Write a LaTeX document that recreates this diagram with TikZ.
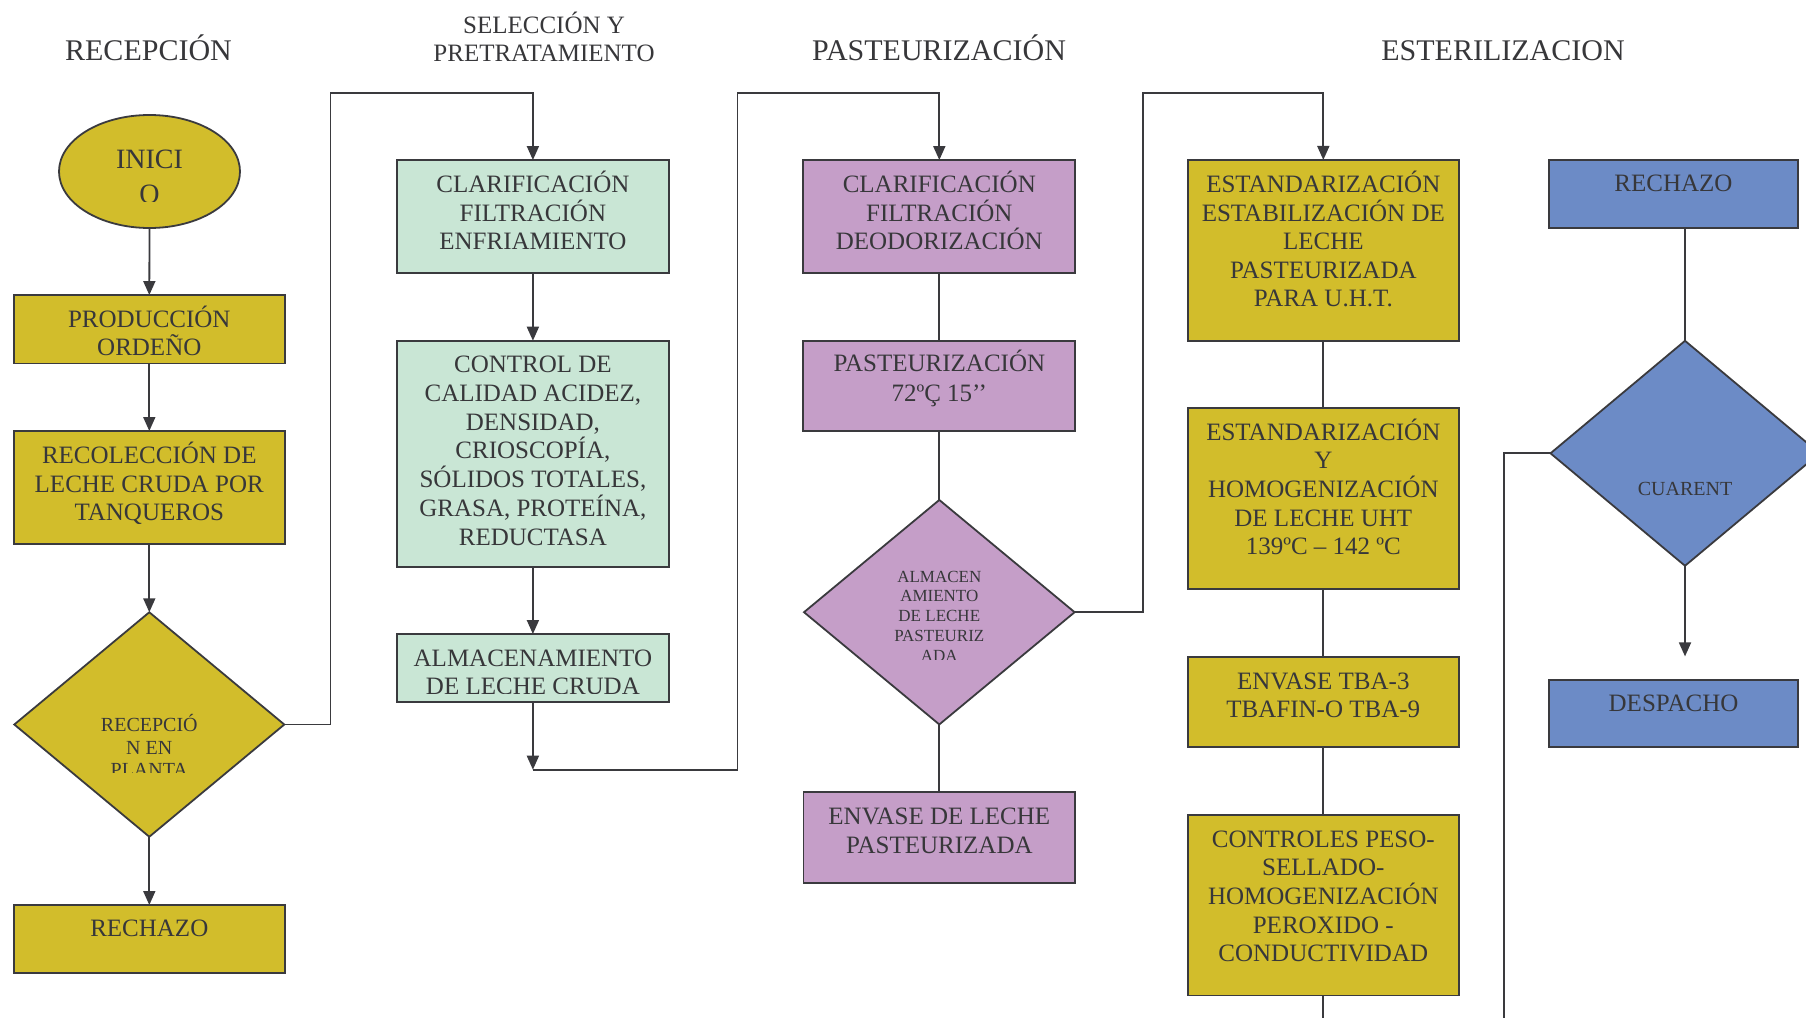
\documentclass[tikz,border=0pt]{standalone}
\usepackage{fontspec}
\setmainfont{Liberation Serif}
\usetikzlibrary{shapes.geometric,arrows.meta}
\definecolor{yel}{RGB}{210,189,43}
\definecolor{grn}{RGB}{201,230,213}
\definecolor{pur}{RGB}{197,158,200}
\definecolor{blu}{RGB}{108,139,198}
\definecolor{linec}{RGB}{58,58,62}
\definecolor{txtc}{RGB}{55,55,58}
\newcommand\myfs[2]{\fontsize{#1}{#2}\selectfont\lineskiplimit=-100pt\relax}
\newcommand\mys[1]{\rule{0pt}{#1pt}}
\begin{document}
\begin{tikzpicture}[x=1pt,y=-1pt,
  shp/.style={draw=linec, line width=1.8pt, inner sep=0pt, outer sep=0pt},
  box/.style={shp, rectangle},
  dia/.style={shp, diamond},
  arr/.style={draw=linec, line width=1.8pt, -{Triangle[length=14pt,width=12pt]}},
  ln/.style={draw=linec, line width=1.8pt},
  txt/.style={anchor=north, inner sep=0pt, align=center, text=txtc},
  t25/.style={txt, font=\myfs{25}{28.6}},
  t30/.style={txt, font=\myfs{30}{34}},
  t20/.style={txt, font=\myfs{20}{22.3}},
  t17/.style={txt, font=\myfs{17}{19.8}},
  t28/.style={txt, font=\myfs{28}{35}}
]
\useasboundingbox (0,0) rectangle (1806,1017);
\clip (0,0) rectangle (1806,1017);

% ---------- titles ----------
\node[t30] (h1) at (148.5,30) {\mys{30}RECEPCIÓN};
\node[txt, font=\myfs{25}{28.4}] (h2) at (544,8.3) {\mys{25}SELECCIÓN Y\\PRETRATAMIENTO};
\node[t30] (h3) at (939,30) {\mys{30}PASTEURIZACIÓN};
\node[t30] (h4) at (1503,30) {\mys{30}ESTERILIZACION};

% ---------- column 1 ----------
\node[shp, ellipse, fill=yel, minimum width=181, minimum height=113] (ini) at (149.5,171.5) {};
\node[box, fill=yel, minimum width=271, minimum height=68.5] (prod) at (149.3,329.3) {};
\node[box, fill=yel, minimum width=271, minimum height=113] (reco) at (149.3,487.5) {};
\node[dia, fill=yel, minimum width=270, minimum height=224.5] (rdia) at (149.3,724.5) {};
\node[box, fill=yel, minimum width=271, minimum height=68] (rech) at (149.3,939) {};

\begin{scope}
  \clip (0,0) rectangle (1806,201);
  \node[t28] (tini) at (149.5,140) {\mys{28}INICI\\O};
\end{scope}
\node[t25] (tprod) at (149.3,302) {\mys{25}PRODUCCIÓN\\ORDEÑO};
\node[t25] (treco) at (149.3,438.3) {\mys{25}RECOLECCIÓN DE\\LECHE CRUDA POR\\TANQUEROS};
\begin{scope}
  \clip (0,0) rectangle (1806,772);
  \node[t20] (trdia) at (149.3,711.7) {\mys{20}RECEPCIÓ\\N EN\\PLANTA};
\end{scope}
\node[t25] (trech) at (149.3,911.7) {\mys{25}RECHAZO};

\draw[arr] (ini.south) -- (prod.north);
\draw[arr] (prod.south) -- (reco.north);
\draw[arr] (reco.south) -- (rdia.north);
\draw[arr] (rdia.south) -- (rech.north);

% ---------- column 2 ----------
\node[box, fill=grn, minimum width=271.7, minimum height=113.3] (clar) at (532.9,216.7) {};
\node[box, fill=grn, minimum width=271.4, minimum height=226] (ctrl) at (532.9,453.7) {};
\node[box, fill=grn, minimum width=271.7, minimum height=68.3] (alma) at (532.9,668.2) {};

\node[t25] (tclar) at (532.9,167.3) {\mys{25}CLARIFICACIÓN\\FILTRACIÓN\\ENFRIAMIENTO};
\node[txt, font=\myfs{25}{28.8}] (tctrl) at (532.9,347.3) {\mys{25}CONTROL DE\\CALIDAD ACIDEZ,\\DENSIDAD,\\CRIOSCOPÍA,\\SÓLIDOS TOTALES,\\GRASA, PROTEÍNA,\\REDUCTASA};
\begin{scope}
  \clip (0,0) rectangle (1806,693.3);
  \node[t25] (talma) at (532.9,641) {\mys{25}ALMACENAMIENTO\\DE LECHE CRUDA};
\end{scope}

\coordinate (c1) at (330.4,92.7);
\draw[arr] (rdia.east) -| (c1) -| (clar.north);
\draw[arr] (clar.south) -- (ctrl.north);
\draw[arr] (ctrl.south) -- (alma.north);
\coordinate (c2) at (532.9,769.7);
\coordinate (c3) at (737.5,92.7);
\draw[arr] (alma.south) -- (c2);

% ---------- column 3 ----------
\node[box, fill=pur, minimum width=272, minimum height=113.3] (p1) at (939.3,216.7) {};
\node[box, fill=pur, minimum width=272, minimum height=90.3] (p2) at (939.3,385.9) {};
\node[dia, fill=pur, minimum width=270.6, minimum height=224.5] (pdia) at (939.3,612.2) {};
\node[box, fill=pur, minimum width=271.7, minimum height=90.7] (p3) at (939.3,837.7) {};

\node[t25] (tp1) at (939.3,167.3) {\mys{25}CLARIFICACIÓN\\FILTRACIÓN\\DEODORIZACIÓN};
\node[txt, font=\myfs{25}{29.5}] (tp2) at (939.3,346.7) {\mys{25}PASTEURIZACIÓN\\72ºÇ 15’’};
\begin{scope}
  \clip (0,0) rectangle (1806,659);
  \node[t17] (tpdia) at (939.3,564.8) {\mys{17}ALMACEN\\AMIENTO\\DE LECHE\\PASTEURIZ\\ADA};
\end{scope}
\node[txt, font=\myfs{25}{28.5}] (tp3) at (939.3,799.3) {\mys{25}ENVASE DE LECHE\\PASTEURIZADA};

\draw[arr] (c2) -| (c3) -| (p1.north);
\draw[ln] (p1.south) -- (p2.north);
\draw[ln] (p2.south) -- (pdia.north);
\draw[ln] (pdia.south) -- (p3.north);

% ---------- column 4 ----------
\node[box, fill=yel, minimum width=270.6, minimum height=180.7] (e1) at (1323.3,250.3) {};
\node[box, fill=yel, minimum width=270.6, minimum height=180.7] (e2) at (1323.3,498.7) {};
\node[box, fill=yel, minimum width=270.6, minimum height=90] (e3) at (1323.3,702) {};
\node[box, fill=yel, minimum width=270.6, minimum height=180.4] (e4) at (1323.3,905.2) {};

\node[t25] (te1) at (1323.3,167.3) {\mys{25}ESTANDARIZACIÓN\\ESTABILIZACIÓN DE\\LECHE\\PASTEURIZADA\\PARA U.H.T.};
\node[t25] (te2) at (1323.3,415) {\mys{25}ESTANDARIZACIÓN\\Y\\HOMOGENIZACIÓN\\DE LECHE UHT\\139ºC – 142 ºC};
\node[t25] (te3) at (1323.3,664) {\mys{25}ENVASE TBA-3\\TBAFIN-O TBA-9};
\node[t25] (te4) at (1323.3,822) {\mys{25}CONTROLES PESO-\\SELLADO-\\HOMOGENIZACIÓN\\PEROXIDO -\\CONDUCTIVIDAD};

\coordinate (c4) at (1143.2,92.7);
\draw[arr] (pdia.east) -| (c4) -| (e1.north);
\draw[ln] (e1.south) -- (e2.north);
\draw[ln] (e2.south) -- (e3.north);
\draw[ln] (e3.south) -- (e4.north);
\coordinate (c5) at (1323.3,1025);
\draw[ln] (e4.south) -- (c5);

% ---------- column 5 ----------
\node[box, fill=blu, minimum width=249, minimum height=68.3] (br) at (1673.5,194.2) {};
\node[dia, fill=blu, minimum width=269, minimum height=225] (bdia) at (1685,453.3) {};
\node[box, fill=blu, minimum width=249, minimum height=67.4] (bd) at (1673.5,713.4) {};

\node[t25] (tbr) at (1673.5,166.7) {\mys{25}RECHAZO};
\node[t20] (tbdia) at (1685,475) {\mys{20}CUARENT};
\node[t25] (tbd) at (1673.5,686) {\mys{25}DESPACHO};

\draw[ln] (br.south -| bdia.north) -- (bdia.north);
\coordinate (c6) at (1685,656.4);
\draw[arr] (bdia.south) -- (c6);
\coordinate (c7) at (1504.3,1025);
\draw[ln] (bdia.west) -| (c7);
\end{tikzpicture}
\end{document}
